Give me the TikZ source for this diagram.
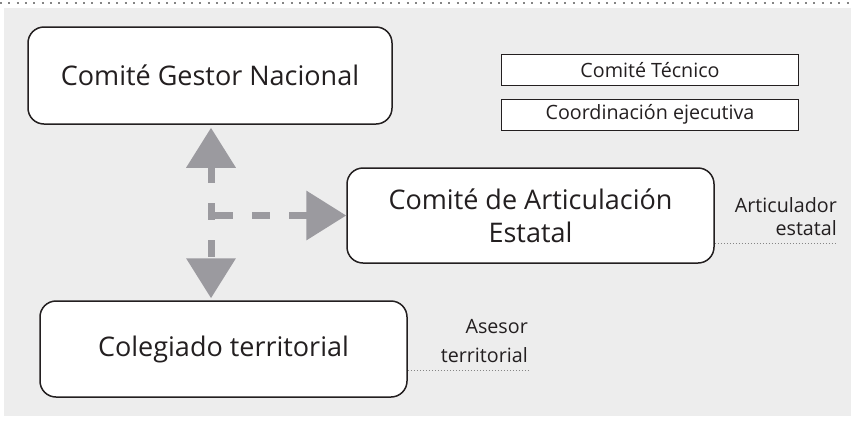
\documentclass[tikz,border=0pt]{standalone}
\usepackage{fontspec}
\setmainfont{Open Sans}
\usetikzlibrary{arrows.meta,calc}
\definecolor{bg}{HTML}{EDEDED}
\definecolor{arrgray}{HTML}{9B9A9F}
\definecolor{ink}{HTML}{231F20}
\definecolor{dotgray}{HTML}{858585}
\begin{document}
\begin{tikzpicture}[x=1pt,y=-1pt,
  bigbox/.style={draw=ink, line width=1.5pt, fill=white, rounded corners=16pt, align=center, text=ink,
    font=\fontsize{27}{33}\selectfont, inner sep=0pt, minimum width=366pt, minimum height=96pt},
  smallbox/.style={draw=ink, line width=0.9pt, fill=white, minimum width=297pt, minimum height=31pt,
    inner sep=0pt, text=ink, font=\fontsize{19.7}{23}\selectfont},
  lbl/.style={text=ink, font=\fontsize{19.7}{23}\selectfont, inner sep=0pt, anchor=base east},
  leader/.style={draw=dotgray, line width=1pt, dash pattern=on 1pt off 2pt},
  varrow/.style={draw=arrgray, line width=7pt, dash pattern=on 17pt off 20pt, {Triangle[length=40pt,width=48pt]}-{Triangle[length=40pt,width=48pt]}},
  harrow/.style={draw=arrgray, line width=7pt, dash pattern=on 18pt off 19pt, -{Triangle[length=40pt,width=48pt]}}
]
\useasboundingbox (0,0) rectangle (851,421);
\fill[bg] (4,8) rectangle (851,416);
\draw[dotgray, line width=2pt, dash pattern=on 2pt off 6.3pt] (0,3) -- (851,3);

\node[bigbox, minimum width=364pt, minimum height=97pt] (g) at (210,75.5) {Comité Gestor Nacional};
\node[smallbox] (ct) at (650,70) {Comité Técnico};
\node[smallbox] (ce) at (650,114.5) {Coordinación ejecutiva};
\node[bigbox, minimum width=367pt, minimum height=95pt] (a) at (530.5,215.5) {Comité de Articulación\\Estatal};
\node[bigbox, minimum width=367pt, minimum height=96pt] (c) at (223.5,349) {Colegiado territorial};

\draw[varrow] ([xshift=1pt,yshift=-3pt]g.south) -- ($(g.south |- c.north)+(1,-2)$);
\coordinate (hs) at ($(g.south |- a.west)+(5,0)$);
\draw[harrow] (hs) -- (a.west);

\node[lbl] (art1) at (837,212) {Articulador};
\node[lbl] (art2) at (837,235) {estatal};
\coordinate (artend) at (837,243);
\draw[leader] (a.east |- artend) -- (artend);

\node[lbl] (as1) at (528,333) {Asesor};
\node[lbl] (as2) at (528,362) {territorial};
\coordinate (asend) at (528,370);
\draw[leader] (c.east |- asend) -- (asend);
\end{tikzpicture}
\end{document}
